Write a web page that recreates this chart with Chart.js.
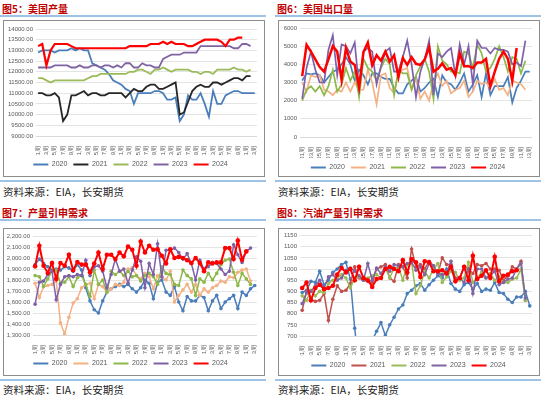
<!DOCTYPE html>
<html>
<head>
<meta charset="utf-8">
<script src="https://cdn.jsdelivr.net/npm/chart.js@4"></script>
<style>
  body { margin: 0; width: 550px; height: 396px; background: #fff; position: relative; overflow: hidden;
         font-family: "Noto Sans CJK SC", sans-serif; }
  .title { position: absolute; font-size: 10px; font-weight: bold; color: #C00000; line-height: 12px; white-space: nowrap; }
  .rule { position: absolute; height: 2px; width: 266px; background: #9DC3E6; }
  .box { position: absolute; width: 260px; border: 1px solid #8c8c8c; overflow: hidden; }
  .box canvas { position: absolute; left: 0; top: 0; }
  .src { position: absolute; font-size: 10.5px; line-height: 12px; color: #222; white-space: nowrap; }
</style>
</head>
<body>

<div class="title" style="left:2px;top:3px">图5：美国产量</div>
<div class="rule" style="left:0;top:15px"></div>
<div class="box" style="left:3px;top:20px;height:155px"><canvas id="c1" width="260" height="157"></canvas></div>
<div class="rule" style="left:0;top:180px"></div>
<div class="src" style="left:3px;top:186px">资料来源：EIA，长安期货</div>

<div class="title" style="left:277px;top:3px">图6：美国出口量</div>
<div class="rule" style="left:275px;top:15px"></div>
<div class="box" style="left:278px;top:20px;height:155px"><canvas id="c2" width="260" height="160"></canvas></div>
<div class="rule" style="left:275px;top:180px"></div>
<div class="src" style="left:278px;top:186px">资料来源：EIA，长安期货</div>

<div class="title" style="left:2px;top:207px">图7：产量引申需求</div>
<div class="rule" style="left:0;top:219px"></div>
<div class="box" style="left:3px;top:228px;height:146px"><canvas id="c3" width="260" height="148"></canvas></div>
<div class="rule" style="left:0;top:379px"></div>
<div class="src" style="left:3px;top:384px">资料来源：EIA，长安期货</div>

<div class="title" style="left:277px;top:207px">图8：汽油产量引申需求</div>
<div class="rule" style="left:275px;top:219px"></div>
<div class="box" style="left:278px;top:228px;height:146px"><canvas id="c4" width="260" height="150"></canvas></div>
<div class="rule" style="left:275px;top:379px"></div>
<div class="src" style="left:278px;top:384px">资料来源：EIA，长安期货</div>

<script>
'use strict';

var weekLabels = ['01周','02周','03周','04周','05周','06周','07周','08周','09周','10周',
  '11周','12周','13周','14周','15周','16周','17周','18周','19周','20周',
  '21周','22周','23周','24周','25周','26周','27周','28周','29周','30周',
  '31周','32周','33周','34周','35周','36周','37周','38周','39周','40周',
  '41周','42周','43周','44周','45周','46周','47周','48周','49周','50周',
  '51周','52周','53周'];
var years = ['2020', '2021', '2022', '2023', '2024'];

// 图5 美国产量
var prod2020 = [12900,13000,13000,13000,12900,13000,13000,13000,13100,13000,
  13100,13000,13000,12400,12300,12200,12100,11900,11600,11500,
  11400,11200,11100,10500,11000,11000,11000,11000,11100,11100,
  11000,10700,10700,10800,9700,10000,10900,10700,10700,11000,
  10500,9900,11100,10500,10500,10900,11000,11100,11100,11000,
  11000,11000,11000];
var prod2021 = [11000,11000,10900,10900,11000,10800,9700,10000,10900,10900,
  11000,11100,10900,11000,11000,10900,10900,11000,11000,11000,
  11000,10800,11000,11200,11100,11100,11300,11400,11400,11200,
  11200,11300,11400,11500,10000,10100,10600,11100,11300,11400,
  11300,11300,11500,11500,11400,11500,11600,11700,11700,11600,
  11800,11800];
var prod2022 = [11700,11700,11600,11500,11600,11600,11600,11600,11600,11600,
  11600,11600,11700,11800,11800,11900,11900,11900,11900,11900,
  11900,11900,12000,12000,12100,12100,12000,11900,12100,12100,
  12200,12100,12000,12100,12100,12100,12100,12000,12000,11900,
  12000,12000,11900,12100,12100,12100,12100,12200,12100,12100,
  12000,12100];
var prod2023 = [12200,12200,12200,12200,12300,12300,12300,12300,12200,12200,
  12300,12200,12200,12300,12300,12200,12300,12300,12200,12300,
  12200,12400,12400,12200,12200,12400,12300,12300,12200,12200,
  12600,12700,12800,12800,12800,12900,12900,12900,12900,13200,
  13200,13200,13200,13200,13200,13200,13200,13100,13100,13300,
  13300,13200];
var prod2024 = [13200,13300,12300,13000,13300,13300,13300,13300,13200,13100,
  13100,13100,13100,13100,13100,13100,13100,13100,13100,13100,
  13100,13100,13200,13200,13200,13200,13200,13300,13300,13300,
  13400,13300,13400,13300,13300,13300,13200,13200,13300,13400,
  13500,13500,13500,13500,13400,13200,13500,13500,13600,13600];

// 图6 美国出口量
var exp2020 = [3100,3500,3450,3500,3400,3000,3300,3600,3700,4000,
  4400,4000,3100,3700,3400,2900,3500,3500,3300,3200,
  3200,2700,2400,2400,2900,3100,3300,2500,2700,3000,
  3200,2200,3400,3000,2900,2600,3000,3500,2500,2900,
  3400,2200,3500,2300,2800,2800,2800,3300,1900,2700,
  3100,3600,3600];
var exp2021 = [3000,2500,3400,3300,3400,2600,2500,2300,2600,2500,
  3000,2500,3000,2600,2600,3700,3000,1800,3400,3500,
  2700,2400,3600,3700,3800,2600,3200,2100,2500,2000,
  3000,3500,2800,3100,2400,2600,2700,3100,2200,2500,
  3100,2900,3000,2700,3200,2600,2700,2300,3100,3000,
  2900,2600];
var exp2022 = [2000,2600,2800,2500,2800,2300,2800,3700,2500,2900,
  3800,3100,3600,2200,4300,3800,3600,3100,3800,4300,
  4000,2300,3700,3500,3500,2600,3400,3900,4300,3600,
  2100,5000,4200,4000,3600,3600,3500,4700,4600,3800,
  5100,4600,3600,3800,4300,5000,4400,3600,4400,4300,
  3500,4200];
var exp2023 = [2100,3800,4700,3700,3000,3000,4800,5600,3400,5100,
  5000,4600,5200,2700,4700,4900,4700,2900,3900,4700,
  4900,3600,3600,4400,5300,4000,2200,3600,4300,5300,
  2300,4600,4400,4700,4900,3400,5100,4000,5000,2900,
  5300,4900,4900,4600,4900,4800,4800,4700,4000,4100,
  3900,5300];
var exp2024 = [3350,5080,4700,4270,3850,3600,4270,5000,4700,3150,
  4900,4150,3970,2750,4680,5200,3950,4500,4200,4700,
  4150,4500,3300,4350,3970,4400,4030,3970,4270,4950,
  3600,3750,4050,3700,3800,3400,4600,3900,3900,3800,
  4100,4100,4300,2800,3600,4300,4700,4300,3100,4900];

// 图7 产量引申需求
var dem2020 = [1940,1990,1950,1920,1890,1900,1890,1920,1910,1880,
  1940,1890,1730,1610,1530,1500,1610,1690,1720,1740,
  1760,1740,1760,1720,1690,1730,1800,1770,1630,1780,
  1800,1690,1660,1740,1600,1520,1650,1610,1610,1660,
  1640,1520,1610,1660,1540,1600,1630,1660,1540,1690,
  1660,1720,1750];
var dem2021 = [1770,1640,1740,1750,1760,1790,1410,1310,1460,1590,
  1630,1730,1760,1770,1630,1760,1740,1690,1720,1760,
  1750,1780,1900,1910,1840,1810,1860,1830,1720,1840,
  1830,1800,1880,1600,1660,1710,1760,1690,1760,1660,
  1720,1690,1730,1750,1790,1780,1830,1820,1870,1890,
  1900,1790];
var dem2022 = [1840,1830,1740,1810,1880,1890,1770,1780,1830,1740,
  1820,1840,1760,1650,1890,1760,1800,1690,1880,1850,
  1880,1840,1880,1830,1840,1790,1840,1860,1830,1760,
  1920,1860,1850,1760,1750,1890,1840,1810,1660,1810,
  1780,1860,1800,1860,1940,1980,1990,1870,1750,1860,
  1810,1760];
var dem2023 = [1580,1780,1790,1850,1880,1620,1760,1830,1840,1830,
  1850,1840,1980,1840,1920,1930,1880,1730,1850,1990,
  1880,1900,1770,1890,2010,1970,1730,1950,1850,2130,
  1830,2070,2070,2090,2050,1990,2040,1950,1800,1980,
  1900,1920,1960,1950,1900,1850,1880,2120,2030,1960,
  2060,2090];
var dem2024 = [1924,2112,1930,1864,1955,1810,1955,1930,2030,1888,
  1964,1940,1940,1870,1950,2050,1900,2030,2030,1990,
  2050,2015,2105,2075,1930,2150,2050,2112,2075,2080,
  2020,1950,2080,2000,2010,2000,1980,1955,2000,1955,
  1880,1960,1950,1960,1960,2090,2090,1990,2158,1985,
  2060];

// 图8 汽油产量引申需求
var gas2020 = [895,905,945,940,990,930,950,985,1000,1020,
  1030,955,735,560,600,640,680,721,760,702,
  750,784,821,839,890,905,925,935,905,930,
  950,970,960,1000,935,910,900,930,940,910,
  935,900,910,905,940,895,890,865,850,875,
  875,900,835];
var gas2021 = [815,900,865,855,860,890,770,865,925,900,
  905,935,1010,960,950,945,940,1000,1010,1020,
  960,945,1020,1010,960,1090,1010,1020,1000,1035,
  1015,980,1050,1020,1020,960,960,1010,1000,980,
  1020,1015,1025,1000,1000,995,950,970,1010,1000,
  1035,860];
var gas2022 = [880,860,905,880,900,895,935,950,960,975,
  960,915,960,965,960,960,970,975,960,1005,
  960,1005,1010,950,1020,1030,890,925,990,960,
  1000,1025,940,965,990,985,950,960,1030,940,
  960,985,960,980,950,965,940,940,955,960,
  1000,860];
var gas2023 = [845,895,900,925,950,915,965,975,950,960,
  995,1005,990,970,950,1025,950,1005,980,1010,
  990,1020,1015,1010,1025,1030,995,1010,975,1025,
  1015,980,975,980,1035,955,960,940,1000,890,
  1000,1000,960,970,990,930,940,955,960,1000,
  1025,870];
var gas2024 = [915,940,860,915,930,910,915,925,975,1005,
  985,1000,950,1010,960,950,920,955,960,1000,
  1010,1000,990,1040,985,1045,1030,965,1035,1030,
  990,990,995,980,1010,945,960,1010,950,1060,
  955,970,995,960,1055,945,970,975,990,995];


var FONT_FAMILY = "'Liberation Sans', sans-serif";
var LEGEND_H = 23;   // legend font 7 + padding 6 + 10 (Chart.js legend fit)

function fixed2(v) { return v.toFixed(2); }
function comma2(v) { return v.toLocaleString('en-US', { minimumFractionDigits: 2, maximumFractionDigits: 2 }); }
function plain(v) { return String(v); }


/**
 * Builds one weekly line chart.
 * cfg: canvas id, series data and colors, y range, plot box inside the canvas.
 */
function buildChart(cfg) {
  var canvas = document.getElementById(cfg.id);
  var n = cfg.data.length;
  var datasets = cfg.data.map(function (d, i) {
    var main = i === n - 1;
    return {
      label: years[i],
      data: d,
      borderColor: cfg.colors[i],
      backgroundColor: cfg.colors[i],
      borderWidth: main ? cfg.mainWidth : cfg.lineWidth,
      pointRadius: cfg.markers ? (main ? 2.3 : 1.8) : 0,
      pointBorderWidth: 0,
      pointBackgroundColor: cfg.colors[i],
      tension: 0,
      order: n - i
    };
  });

  new Chart(canvas.getContext('2d'), {
    type: 'line',
    data: { labels: weekLabels, datasets: datasets },
    options: {
      responsive: false,
      animation: false,
      layout: { padding: { top: cfg.top, right: cfg.right, left: 0, bottom: 0 } },
      plugins: {
        tooltip: { enabled: false },
        legend: {
          position: 'bottom',
          labels: {
            boxWidth: 15, boxHeight: 2, padding: 6, color: '#595959',
            font: { family: FONT_FAMILY, size: 7 },
            sort: function (a, b) { return a.datasetIndex - b.datasetIndex; },
            generateLabels: function (chart) {
              return Chart.defaults.plugins.legend.labels.generateLabels(chart).map(function (l) {
                l.lineWidth = 0;
                return l;
              });
            }
          }
        }
      },
      scales: {
        x: {
          offset: true,
          grid: { display: false },
          border: { color: '#d9d9d9' },
          ticks: {
            autoSkip: false, minRotation: 90, maxRotation: 90, padding: 2,
            color: '#595959', font: { family: FONT_FAMILY, size: 6 },
            callback: function (v, i) { return i % 2 === 0 ? this.getLabelForValue(v) : ''; }
          },
          afterFit: function (s) { s.height = canvas.height - LEGEND_H - cfg.bottom; }
        },
        y: {
          min: cfg.min, max: cfg.max,
          grid: { color: '#e4e4e4', drawTicks: false },
          border: { display: false },
          ticks: {
            autoSkip: false, stepSize: cfg.step, padding: 3, color: '#595959',
            font: { family: FONT_FAMILY, size: 6 }, callback: cfg.fmt
          },
          afterFit: function (s) { s.width = cfg.left; }
        }
      }
    }
  });
}


buildChart({
  id: 'c1', data: [prod2020, prod2021, prod2022, prod2023, prod2024],
  colors: ['#4A7EBB', '#262626', '#9BBB59', '#8064A2', '#FF0000'],
  lineWidth: 1.8, mainWidth: 2.2, markers: false,
  min: 9000, max: 14000, step: 500, fmt: fixed2,
  left: 32, right: 7, top: 8, bottom: 115
});

buildChart({
  id: 'c2', data: [exp2020, exp2021, exp2022, exp2023, exp2024],
  colors: ['#4A7EBB', '#F4B183', '#8DB84A', '#7F60A8', '#FF0000'],
  lineWidth: 1.7, mainWidth: 2.5, markers: false,
  min: 0, max: 6000, step: 1000, fmt: plain,
  left: 21, right: 2, top: 7, bottom: 116
});

buildChart({
  id: 'c3', data: [dem2020, dem2021, dem2022, dem2023, dem2024],
  colors: ['#4A7EBB', '#F4B183', '#8DB84A', '#7F60A8', '#FF0000'],
  lineWidth: 1.5, mainWidth: 2, markers: true,
  min: 1300, max: 2200, step: 100, fmt: comma2,
  left: 29, right: 7, top: 7, bottom: 106
});

buildChart({
  id: 'c4', data: [gas2020, gas2021, gas2022, gas2023, gas2024],
  colors: ['#4A7EBB', '#C0504D', '#9BBB59', '#8064A2', '#FF0000'],
  lineWidth: 1.5, mainWidth: 2, markers: true,
  min: 700, max: 1150, step: 50, fmt: plain,
  left: 21, right: 1, top: 6, bottom: 107
});
</script>
</body>
</html>
